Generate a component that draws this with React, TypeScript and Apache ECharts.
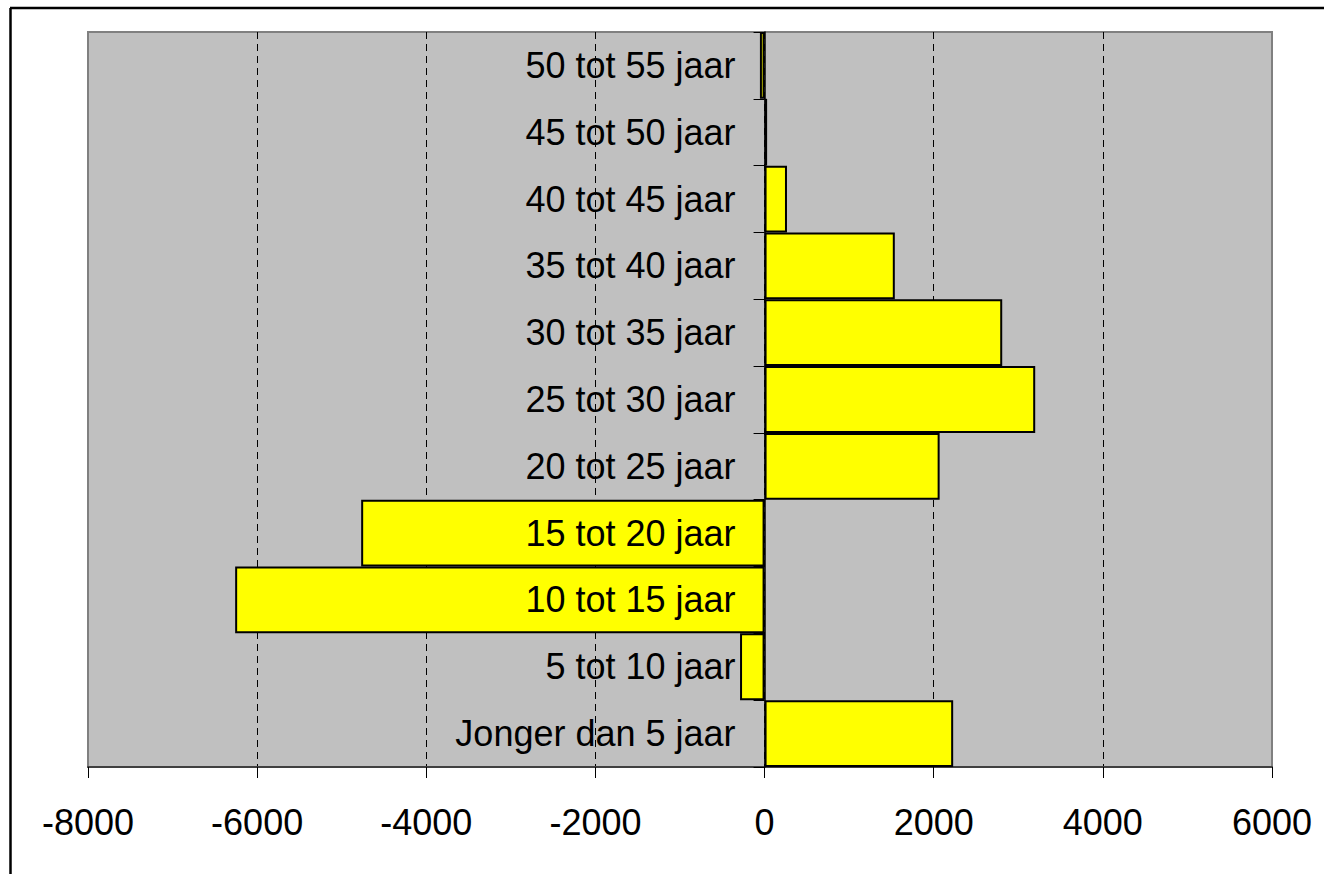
import React, { useEffect, useRef } from "react";
import * as echarts from "echarts";

const categories = [
  "Jonger dan 5 jaar",
  "5 tot 10 jaar",
  "10 tot 15 jaar",
  "15 tot 20 jaar",
  "20 tot 25 jaar",
  "25 tot 30 jaar",
  "30 tot 35 jaar",
  "35 tot 40 jaar",
  "40 tot 45 jaar",
  "45 tot 50 jaar",
  "50 tot 55 jaar",
];
const values = [2230, -290, -6260, -4770, 2070, 3200, 2810, 1540, 265, 30, -55];
const xMin = -8000;
const xMax = 6000;
const xStep = 2000;

export default function App() {
  const ref = useRef<HTMLDivElement>(null);
  useEffect(() => {
    if (!ref.current) return;
    const chart = echarts.init(ref.current, undefined, { renderer: "svg" });
    const font = "'Liberation Sans', Arial, sans-serif";
    chart.setOption({
      animation: false,
      backgroundColor: "#ffffff",
      grid: {
        left: 88,
        top: 32,
        right: 52,
        bottom: 107,
        containLabel: false,
        outerBoundsMode: "none",
        show: true,
        backgroundColor: "#C0C0C0",
        borderColor: "#808080",
        borderWidth: 2,
      },
      xAxis: {
        type: "value",
        min: xMin,
        max: xMax,
        interval: xStep,
        axisLine: { show: true, onZero: false, lineStyle: { color: "#404040", width: 2 } },
        axisTick: { show: true, length: 11, lineStyle: { color: "#000", width: 1 } },
        axisLabel: {
          color: "#000",
          fontSize: 36,
          fontFamily: font,
          margin: 37,
          formatter: (v: number) => String(v),
        },
        splitLine: {
          show: true,
          showMinLine: false,
          showMaxLine: false,
          lineStyle: { color: "#000", width: 1, type: [7, 5] },
        },
      },
      yAxis: {
        type: "category",
        data: categories,
        z: 10,
        axisLine: { show: true, onZero: true, lineStyle: { color: "#000", width: 1.5 } },
        axisTick: { show: true, length: 11, lineStyle: { color: "#000", width: 1 } },
        axisLabel: { show: false },
        splitLine: { show: false },
      },
      series: [
        {
          type: "bar",
          data: values,
          barCategoryGap: 0,
          itemStyle: { color: "#FFFF00", borderColor: "#000", borderWidth: 2 },
        },
        {
          type: "scatter",
          data: categories.map((c) => [0, c]),
          symbolSize: 0,
          z: 20,
          silent: true,
          itemStyle: { color: "#000", opacity: 1 },
          label: {
            show: true,
            position: "left",
            distance: 29,
            color: "#000",
            opacity: 1,
            textBorderWidth: 0,
            textBorderColor: "transparent",
            fontSize: 36,
            fontFamily: font,
            formatter: (p: any) => categories[p.dataIndex],
          },
        },
      ],
      graphic: [
        { type: "line", shape: { x1: 10, y1: 8, x2: 1324, y2: 8 }, style: { stroke: "#000", lineWidth: 2.5 } },
        { type: "line", shape: { x1: 10.5, y1: 8, x2: 10.5, y2: 874 }, style: { stroke: "#000", lineWidth: 2.5 } },
      ],
    });
    return () => chart.dispose();
  }, []);
  return (
    <div
      ref={ref}
      style={{ position: "fixed", left: 0, top: 0, width: 1324, height: 874 }}
    />
  );
}
